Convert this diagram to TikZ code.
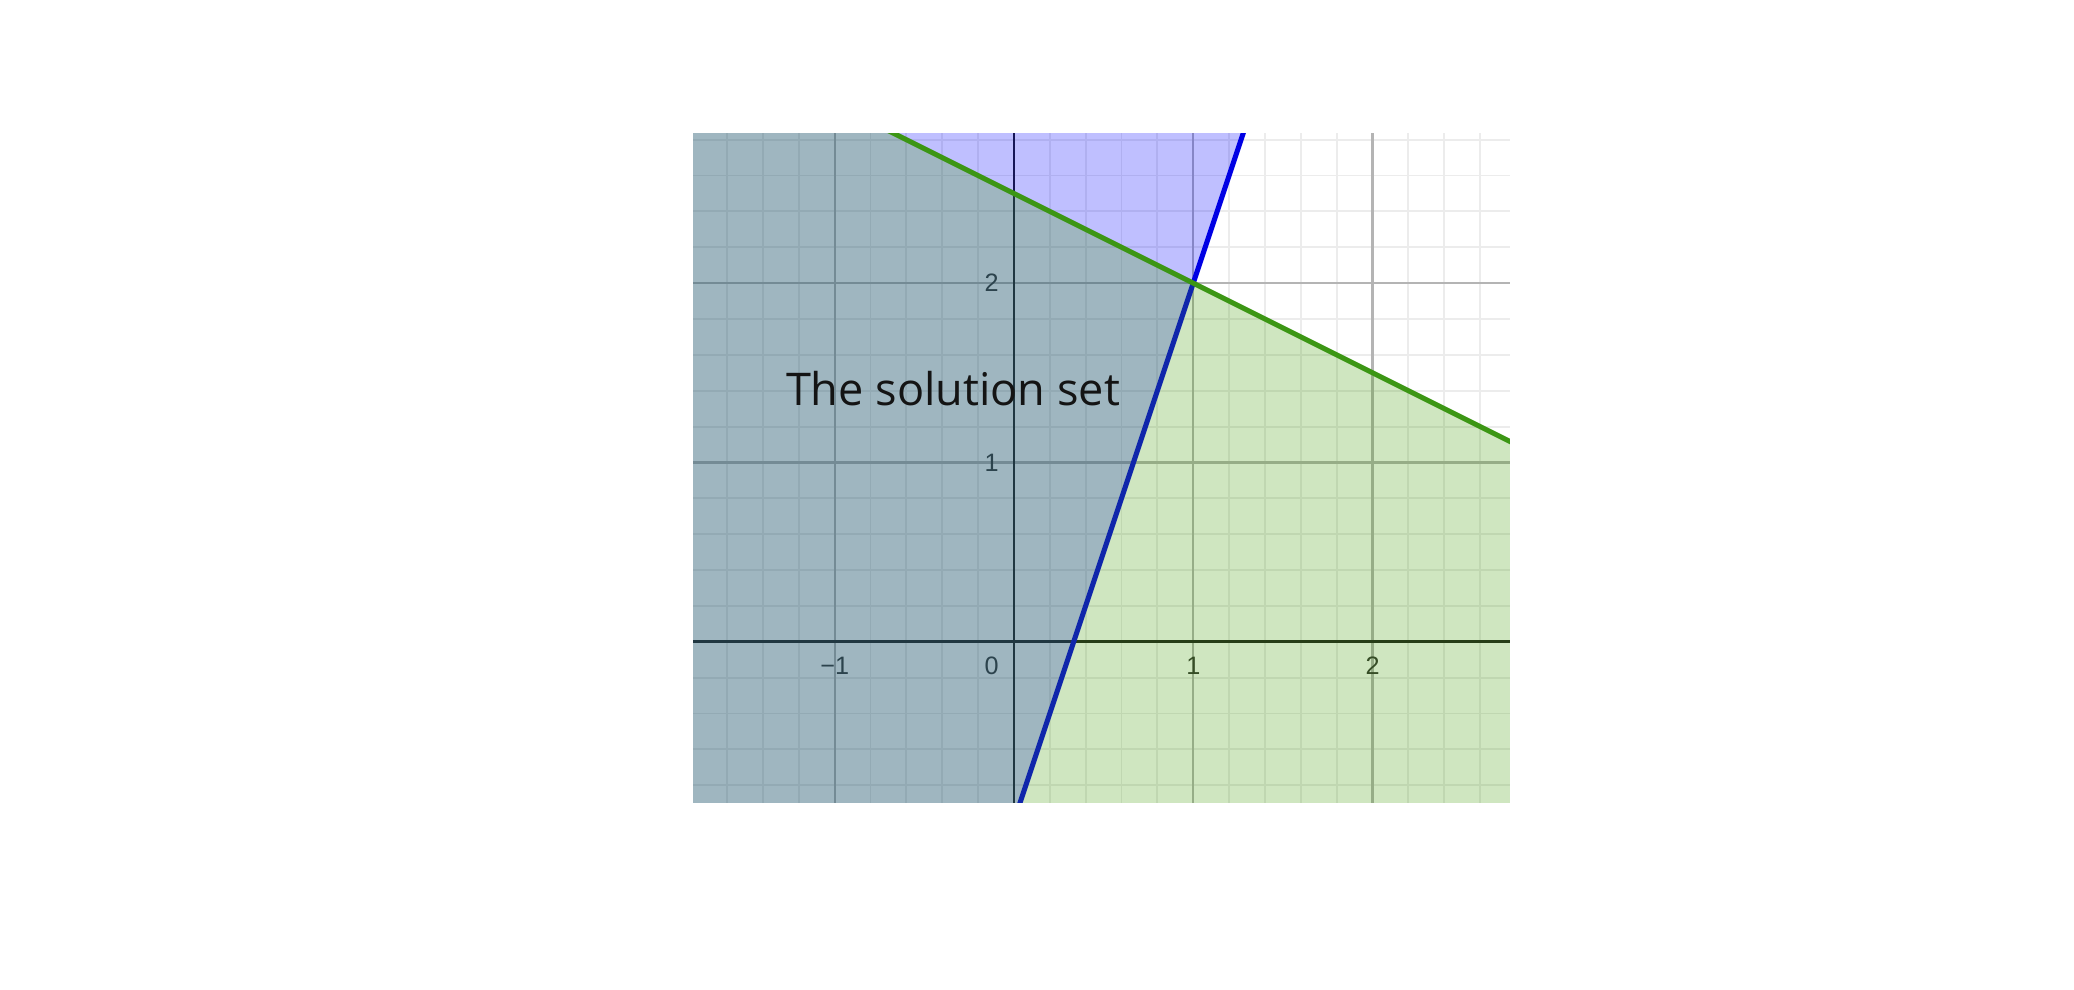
\documentclass[tikz,border=0pt]{standalone}
\usepackage{fontspec}
\newfontfamily\ticksf{Liberation Sans}
\newfontfamily\titlesf{Open Sans}
\definecolor{minorcol}{RGB}{236,236,236}
\definecolor{majorcol}{RGB}{180,180,180}
\definecolor{axiscol}{RGB}{30,30,30}
\definecolor{tickcol}{RGB}{51,51,51}
\definecolor{bluefill}{RGB}{0,0,255}
\definecolor{greenfill}{RGB}{63,155,3}
\definecolor{bluecol}{RGB}{0,0,228}
\definecolor{greencol}{RGB}{60,150,20}
\definecolor{titlecol}{RGB}{20,20,20}
\tikzset{
  minorgrid/.style={draw=minorcol, line width=0.3pt},
  majorgrid/.style={draw=majorcol, line width=0.36pt},
  axisline/.style={draw=axiscol, line width=0.4pt},
  ticklabel/.style={font=\ticksf\fontsize{4}{4.5}\selectfont, text=tickcol, inner sep=0pt},
  blueshade/.style={fill=bluefill, fill opacity=0.25},
  greenshade/.style={fill=greenfill, fill opacity=0.25},
  blueline/.style={draw=bluecol, line width=0.8pt},
  greenline/.style={draw=greencol, line width=0.8pt},
  titletext/.style={font=\titlesf\fontsize{7.15}{8}\selectfont, text=titlecol, inner sep=0pt}
}
\begin{document}
\begin{tikzpicture}[x=1cm,y=1cm]
\useasboundingbox (-5.655,-1.937) rectangle (5.912,3.579);
\begin{scope}
  \clip (-1.789,-0.896) rectangle (2.766,2.832);
  \draw[minorgrid, step=0.2] (-2,-1) grid (3,3);
  \draw[majorgrid, step=1] (-2,-1) grid (3,3);
  \draw[axisline] (-2,0) -- (3,0);
  \draw[axisline] (0,-1) -- (0,3);
  \node[ticklabel] (xm1) at (-1,-0.136) {−1};
  \node[ticklabel] (x0) at (-0.124,-0.136) {0};
  \node[ticklabel] (x1) at (1,-0.136) {1};
  \node[ticklabel] (x2) at (2,-0.136) {2};
  \node[ticklabel] (y1) at (-0.124,1) {1};
  \node[ticklabel] (y2) at (-0.124,2) {2};
  \fill[blueshade] (-2,-1) -- (-2,3) -- ({4/3},3) -- (0,-1) -- cycle;
  \draw[blueline] (0,-1) -- ({4/3},3);
  \fill[greenshade] (-2,3.5) -- (3,1) -- (3,-1) -- (-2,-1) -- cycle;
  \draw[greenline] (-2,3.5) -- (3,1);
\end{scope}
\node[titletext, anchor=base] (title) at (-0.340,1.320) {The solution set};
\end{tikzpicture}
\end{document}
